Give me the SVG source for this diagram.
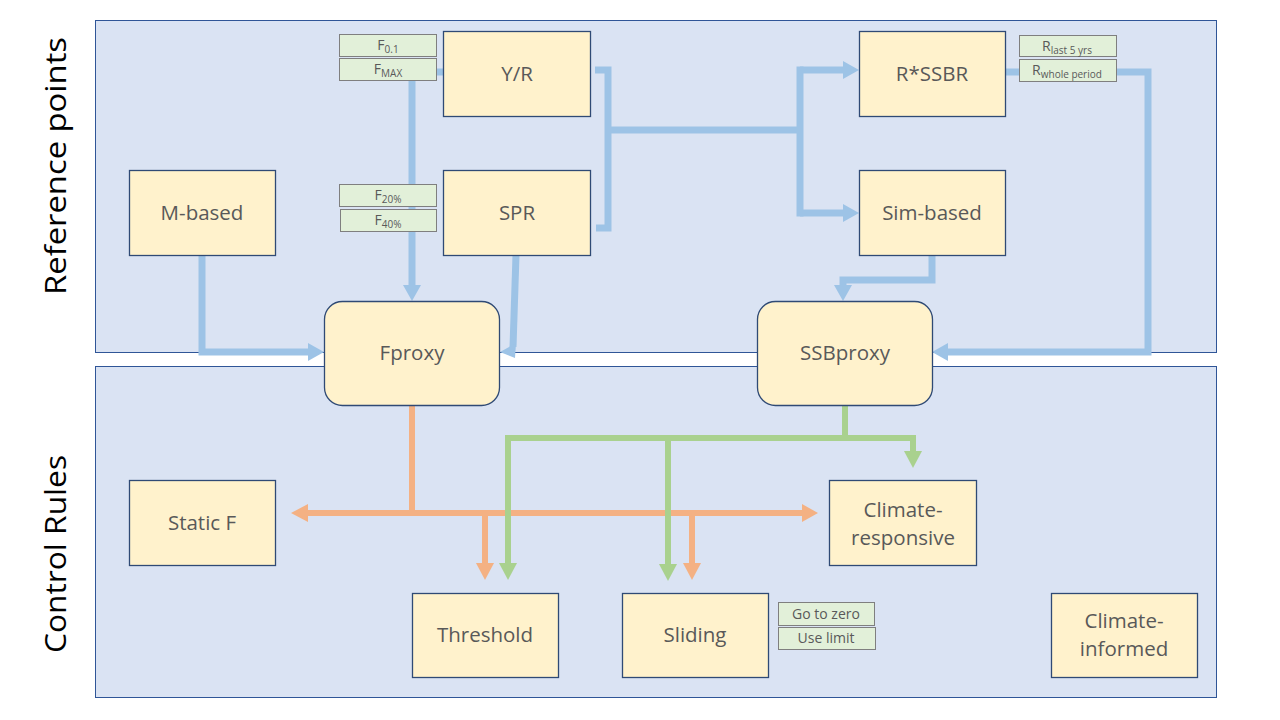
<svg xmlns="http://www.w3.org/2000/svg" width="1280" height="720" viewBox="0 0 1280 720">
<defs>
<style>
.panel{fill:#DAE3F3;stroke:#2F5597;stroke-width:1}
.node{fill:#FFF2CC;stroke:#2F4A75;stroke-width:1.3}
.tag{fill:#E2F0D9;stroke:#7F7F7F;stroke-width:1}
.lbl{font-family:"Open Sans","Noto Sans",sans-serif;font-size:20.5px;fill:#595959;text-anchor:middle}
.tt{font-family:"Open Sans","Noto Sans",sans-serif;font-size:14px;fill:#595959;text-anchor:middle}
.sub{font-size:10px}
.side{font-family:"Open Sans","Noto Sans",sans-serif;font-size:30px;fill:#000;text-anchor:middle}
.b{fill:none;stroke:#9DC3E6;stroke-width:7}
.o{fill:none;stroke:#F4B183;stroke-width:6}
.g{fill:none;stroke:#A9D18E;stroke-width:6}
.bh{fill:#9DC3E6}
.oh{fill:#F4B183}
.gh{fill:#A9D18E}
</style>
</defs>
<rect width="1280" height="720" fill="#FFFFFF"/>
<g id="panels">
<rect class="panel" x="95.5" y="20.5" width="1121" height="332"/>
<rect class="panel" x="95.5" y="366.5" width="1121" height="331"/>
<text class="side" transform="translate(66,166) rotate(-90)" textLength="258" lengthAdjust="spacingAndGlyphs">Reference points</text>
<text class="side" transform="translate(66,554) rotate(-90)" textLength="198" lengthAdjust="spacingAndGlyphs">Control Rules</text>
</g>
<g id="connectors">
<!-- blue -->
<path class="b" d="M436 72 H443"/>
<path class="b" d="M412 80 V286"/>
<polygon class="bh" points="403,285 421,285 412,301"/>
<path class="b" d="M595 70 H608 V228 H596"/>
<path class="b" d="M608 130 H800"/>
<path class="b" d="M800 66.5 V216.5"/>
<path class="b" d="M800 70 H844"/>
<polygon class="bh" points="843,61 859,70 843,79"/>
<path class="b" d="M800 213 H844"/>
<polygon class="bh" points="843,204 859,213 843,222"/>
<path class="b" d="M202 255 V352 H309"/>
<polygon class="bh" points="308,343 324,352 308,361"/>
<path class="b" d="M516 255 L513 347"/>
<polygon class="bh" points="500,352 516,343 515,358"/>
<path class="b" d="M932 255 V280 H843 V286"/>
<polygon class="bh" points="834,285 852,285 843,301"/>
<path class="b" d="M1005 72 H1019"/>
<path class="b" d="M1116 72 H1148 V352 H947"/>
<polygon class="bh" points="948,343 932,352 948,361"/>
<!-- orange -->
<path class="o" d="M412 405 V513"/>
<path class="o" d="M306 513 H804"/>
<polygon class="oh" points="308,504 291,513 308,522"/>
<polygon class="oh" points="802,504 818,513 802,522"/>
<path class="o" d="M485 513 V565"/>
<polygon class="oh" points="476,563 494,563 485,580"/>
<path class="o" d="M692 513 V565"/>
<polygon class="oh" points="683,563 701,563 692,580"/>
<!-- green -->
<path class="g" d="M845 405 V438"/>
<path class="g" d="M508 565 V438 H913 V452"/>
<polygon class="gh" points="499,563 517,563 508,580"/>
<path class="g" d="M668 438 V565"/>
<polygon class="gh" points="659,564 677,564 668,581"/>
<polygon class="gh" points="904,451 922,451 913,468"/>
</g>
<g id="m-based"><rect class="node" x="129.5" y="170.5" width="146" height="85"/><text class="lbl" x="202" y="220">M-based</text></g>
<g id="yr"><rect class="node" x="443.5" y="31.5" width="147" height="85"/><text class="lbl" x="517" y="81">Y/R</text></g>
<g id="spr"><rect class="node" x="443.5" y="170.5" width="147" height="85"/><text class="lbl" x="517" y="220">SPR</text></g>
<g id="rssbr"><rect class="node" x="859.5" y="31.5" width="146" height="85"/><text class="lbl" x="932" y="81">R*SSBR</text></g>
<g id="sim-based"><rect class="node" x="859.5" y="170.5" width="146" height="85"/><text class="lbl" x="932" y="220">Sim-based</text></g>
<g id="fproxy"><rect class="node" x="324.5" y="301.5" width="175" height="104" rx="18"/><text class="lbl" x="412" y="360">Fproxy</text></g>
<g id="ssbproxy"><rect class="node" x="757.5" y="301.5" width="175" height="104" rx="18"/><text class="lbl" x="845" y="360">SSBproxy</text></g>
<g id="static-f"><rect class="node" x="129.5" y="480.5" width="146" height="85"/><text class="lbl" x="202" y="530">Static F</text></g>
<g id="climate-responsive"><rect class="node" x="829.5" y="480.5" width="147" height="85"/><text class="lbl" x="903" y="517">Climate-</text><text class="lbl" x="903" y="545">responsive</text></g>
<g id="threshold"><rect class="node" x="412.5" y="593.5" width="146" height="84"/><text class="lbl" x="485" y="642">Threshold</text></g>
<g id="sliding"><rect class="node" x="622.5" y="593.5" width="146" height="84"/><text class="lbl" x="695" y="642">Sliding</text></g>
<g id="climate-informed"><rect class="node" x="1051.5" y="593.5" width="146" height="84"/><text class="lbl" x="1124" y="628">Climate-</text><text class="lbl" x="1124" y="656">informed</text></g>
<g id="tags">
<rect class="tag" x="339.5" y="34.5" width="97" height="22"/><text class="tt" x="388" y="50">F<tspan class="sub" dy="3">0.1</tspan></text>
<rect class="tag" x="339.5" y="58.5" width="97" height="22"/><text class="tt" x="388" y="74">F<tspan class="sub" dy="3">MAX</tspan></text>
<rect class="tag" x="339.5" y="184.5" width="97" height="22"/><text class="tt" x="388" y="200">F<tspan class="sub" dy="3">20%</tspan></text>
<rect class="tag" x="340.5" y="209.5" width="96" height="22"/><text class="tt" x="388" y="225">F<tspan class="sub" dy="3">40%</tspan></text>
<rect class="tag" x="1019.5" y="35.5" width="97" height="21"/><text class="tt" x="1067" y="51">R<tspan class="sub" dy="3">last 5 yrs</tspan></text>
<rect class="tag" x="1019.5" y="59.5" width="97" height="22"/><text class="tt" x="1067" y="75">R<tspan class="sub" dy="3">whole period</tspan></text>
<rect class="tag" x="778.5" y="602.5" width="96" height="23"/><text class="tt" x="826" y="619">Go to zero</text>
<rect class="tag" x="778.5" y="627.5" width="97" height="22"/><text class="tt" x="826" y="643">Use limit</text>
</g>
</svg>
